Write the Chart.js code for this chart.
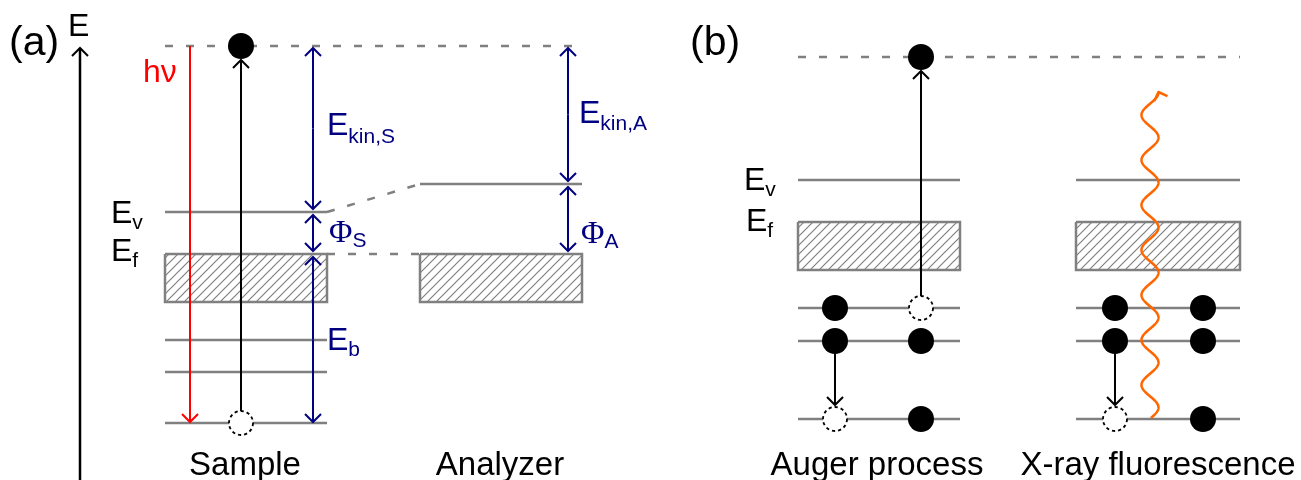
<!DOCTYPE html>
<html>
<head>
<meta charset="utf-8">
<script src="https://cdn.jsdelivr.net/npm/chart.js@4.4.1/dist/chart.umd.min.js"></script>
<style>
  html, body { margin: 0; padding: 0; background: #fff; }
</style>
</head>
<body>
<canvas id="bands" width="1301" height="480"></canvas>
<script>
// energy axis: one unit per pixel, zero at the bottom edge

// (a) photoemission: sample and analyzer in contact
const freeLevelA = 434;       // level of the emitted photoelectron
const vacuumSample = 268;     // E_v of the sample
const vacuumAnalyzer = 296;   // vacuum level of the analyzer
const fermiLevel = 226;       // common E_f
const bandBottomA = 178;      // bottom of the occupied band
const coreLevelsA = [140, 108, 57];

// (b) decay of a core hole
const freeLevelB = 423;       // level of the Auger electron
const vacuumB = 300;
const fermiB = 258;
const bandBottomB = 210;
const coreLevelsB = [172, 139, 61];

// occupancy of the three core levels per column (1 = electron, 0 = hole)
const augerLeft = [1, 1, 0];
const augerRight = [0, 1, 1];
const fluorLeft = [1, 1, 0];
const fluorRight = [1, 1, 1];

// horizontal layout
const X = {
  axis: 80, hv: 190, elecA: 241, arrS: 313, arrA: 568,
  sample: [165, 327], analyzer: [420, 582],
  auger: [798, 960], fluor: [1076, 1240],
  augerL: 835, augerR: 921, fluorL: 1115, fluorR: 1203
};

// emitted x-ray photon, drawn as a wavy arrow
const photon = { x: 1150, from: 62, to: 388, amp: 8.5, period: 45, leftPeak: 365 };

const GRAY = '#808080';
const NAVY = '#000080';
const RED = '#ff0000';
const ORANGE = '#ff6600';
const DASH = [8, 13];
const GAP = 3;                // clearance between an arrow tip and its level
const SANS = '"Liberation Sans", Arial, sans-serif';
const SERIF = '"Liberation Serif", "Times New Roman", serif';

const labels = [
  { text: '(a)', x: 9, e: 425, size: 41 },
  { text: 'E', x: 68, e: 444 },
  { text: 'h\u03bd', x: 143, e: 398, color: RED },
  { text: 'E', sub: 'v', x: 111, e: 257 },
  { text: 'E', sub: 'f', x: 111, e: 219 },
  { text: 'E', sub: 'kin,S', x: 327, e: 345, color: NAVY, drop: 8 },
  { text: '\u03a6', sub: 'S', x: 329, e: 238, color: NAVY, serif: true, drop: 5 },
  { text: 'E', sub: 'b', x: 327, e: 130, color: NAVY },
  { text: 'E', sub: 'kin,A', x: 579, e: 357, color: NAVY, drop: 7 },
  { text: '\u03a6', sub: 'A', x: 581, e: 237, color: NAVY, serif: true, drop: 5 },
  { text: 'Sample', x: 245, e: 5, center: true, size: 33 },
  { text: 'Analyzer', x: 500, e: 5, center: true, size: 33 },
  { text: '(b)', x: 690, e: 425, size: 41 },
  { text: 'E', sub: 'v', x: 744, e: 290 },
  { text: 'E', sub: 'f', x: 746, e: 249 },
  { text: 'Auger process', x: 877, e: 5, center: true, size: 33 },
  { text: 'X-ray fluorescence', x: 1158, e: 5, center: true, size: 33 }
];

const ctx0 = document.getElementById('bands').getContext('2d');

function hatch() {
  const s = 9;
  const c = document.createElement('canvas');
  c.width = s; c.height = s;
  const g = c.getContext('2d');
  g.strokeStyle = GRAY;
  g.lineWidth = 1.2;
  g.beginPath();
  g.moveTo(0, s); g.lineTo(s, 0);
  g.moveTo(-2, 2); g.lineTo(2, -2);
  g.moveTo(s - 2, s + 2); g.lineTo(s + 2, s - 2);
  g.stroke();
  return ctx0.createPattern(c, 'repeat');
}

function chevron(color, w, h, lw) {
  const s = 2 * Math.max(w, h) + 8;
  const c = document.createElement('canvas');
  c.width = s; c.height = s;
  const g = c.getContext('2d');
  g.strokeStyle = color;
  g.lineWidth = lw;
  g.lineCap = 'butt';
  g.beginPath();
  g.moveTo(s / 2 - w, s / 2 + h);
  g.lineTo(s / 2, s / 2);
  g.lineTo(s / 2 + w, s / 2 + h);
  g.stroke();
  return c;
}

function holeMark() {
  const c = document.createElement('canvas');
  c.width = 30; c.height = 30;
  const g = c.getContext('2d');
  g.beginPath();
  g.arc(15, 15, 12, 0, Math.PI * 2);
  g.fillStyle = '#fff';
  g.fill();
  g.setLineDash([3.2, 3]);
  g.lineWidth = 1.8;
  g.strokeStyle = '#000';
  g.stroke();
  return c;
}

const datasets = [];
const hatchFill = hatch();

function line(points, color, width, order, dash) {
  datasets.push({
    data: points.map(([x, y]) => ({ x, y })),
    showLine: true, borderColor: color, borderWidth: width, borderDash: dash || [],
    borderCapStyle: 'butt', pointRadius: 0, fill: false, tension: 0, order
  });
}

function level(span, e, dash) {
  line([[span[0], e], [span[1], e]], GRAY, 2.5, 3, dash);
}

function band(span, top, bottom) {
  datasets.push({
    data: [
      { x: span[0], y: top }, { x: span[1], y: top },
      { x: span[1], y: bottom }, { x: span[0], y: bottom }, { x: span[0], y: top }
    ],
    showLine: true, borderColor: GRAY, borderWidth: 2.5, backgroundColor: hatchFill,
    fill: 'shape', pointRadius: 0, tension: 0, order: 4
  });
}

const tips = { black: [], red: [], navy: [] };
function arrow(x, from, to, kind, width) {
  const color = { black: '#000', red: RED, navy: NAVY }[kind];
  line([[x, from], [x, to]], color, width, 2);
  tips[kind].push({ x, y: to, up: to > from });
}
// double-headed arrow between two levels
function span(x, upper, lower) {
  const top = upper - GAP, bottom = lower + GAP;
  const mid = (top + bottom) / 2;
  arrow(x, mid, top, 'navy', 2);
  arrow(x, mid, bottom, 'navy', 2);
}

// (a) levels
level([X.sample[0], X.analyzer[1]], freeLevelA, DASH);
level(X.sample, vacuumSample);
line([[X.sample[1], vacuumSample], [X.analyzer[0], vacuumAnalyzer]], GRAY, 2.5, 3, DASH);
level(X.analyzer, vacuumAnalyzer);
line([[X.sample[1], fermiLevel], [X.analyzer[0], fermiLevel]], GRAY, 2.5, 3, DASH);
band(X.sample, fermiLevel, bandBottomA);
band(X.analyzer, fermiLevel, bandBottomA);
coreLevelsA.forEach(e => level(X.sample, e));

// (b) levels
level([X.auger[0], X.fluor[1]], freeLevelB, DASH);
[X.auger, X.fluor].forEach(s => {
  level(s, vacuumB);
  band(s, fermiB, bandBottomB);
  coreLevelsB.forEach(e => level(s, e));
});

// (a) arrows
arrow(X.axis, 0, 432, 'black', 2.5);
arrow(X.hv, freeLevelA, coreLevelsA[2] + 1, 'red', 2);
arrow(X.elecA, coreLevelsA[2] + 12, freeLevelA - 14, 'black', 2);
span(X.arrS, freeLevelA + 1, vacuumSample);
span(X.arrS, vacuumSample, fermiLevel);
span(X.arrS, fermiLevel, coreLevelsA[2] - 2);
span(X.arrA, freeLevelA + 1, vacuumAnalyzer);
span(X.arrA, vacuumAnalyzer, fermiLevel);

// (b) arrows
arrow(X.augerR, coreLevelsB[0] + 12, freeLevelB - 14, 'black', 2);
arrow(X.augerL, coreLevelsB[1] - 13, coreLevelsB[2] + 14, 'black', 2);
arrow(X.fluorL, coreLevelsB[1] - 13, coreLevelsB[2] + 14, 'black', 2);

const tipMarks = {
  black: chevron('#000', 8, 8, 2),
  red: chevron(RED, 8, 8, 2),
  navy: chevron(NAVY, 8, 8, 2)
};
for (const kind of Object.keys(tips)) {
  datasets.push({
    data: tips[kind].map(t => ({ x: t.x, y: t.y })),
    showLine: false, pointStyle: tipMarks[kind], pointRadius: 8,
    pointRotation: tips[kind].map(t => (t.up ? 0 : 180)), order: 1
  });
}

// electrons and holes
const electrons = [{ x: X.elecA, y: freeLevelA }, { x: X.augerR, y: freeLevelB }];
const holes = [{ x: X.elecA, y: coreLevelsA[2] }];
coreLevelsB.forEach((e, i) => {
  (augerLeft[i] ? electrons : holes).push({ x: X.augerL, y: e });
  (augerRight[i] ? electrons : holes).push({ x: X.augerR, y: e });
  (fluorLeft[i] ? electrons : holes).push({ x: X.fluorL, y: e });
  (fluorRight[i] ? electrons : holes).push({ x: X.fluorR, y: e });
});
datasets.push({
  data: electrons, showLine: false, pointStyle: 'circle', pointRadius: 13,
  pointBackgroundColor: '#000', pointBorderWidth: 0, order: 0
});
datasets.push({
  data: holes, showLine: false, pointStyle: holeMark(), pointRadius: 12, order: 0
});

const photonWave = {
  id: 'photonWave',
  afterDatasetsDraw(chart) {
    const { ctx, scales: { x, y } } = chart;
    const phase = e => 2 * Math.PI * (photon.leftPeak - e) / photon.period - Math.PI / 2;
    ctx.save();
    ctx.strokeStyle = ORANGE;
    ctx.lineWidth = 2.5;
    ctx.lineJoin = 'round';
    ctx.beginPath();
    for (let e = photon.from; e <= photon.to; e += 0.5) {
      const px = x.getPixelForValue(photon.x + photon.amp * Math.sin(phase(e)));
      const py = y.getPixelForValue(e);
      if (e === photon.from) ctx.moveTo(px, py); else ctx.lineTo(px, py);
    }
    ctx.stroke();
    const tx = x.getPixelForValue(photon.x + photon.amp * Math.sin(phase(photon.to)));
    const ty = y.getPixelForValue(photon.to);
    ctx.translate(tx, ty);
    ctx.rotate(-0.35);
    ctx.beginPath();
    ctx.moveTo(-7, 7); ctx.lineTo(0, 0); ctx.lineTo(7, 7);
    ctx.stroke();
    ctx.restore();
  }
};

const levelLabels = {
  id: 'levelLabels',
  afterDatasetsDraw(chart) {
    const { ctx, scales: { x, y } } = chart;
    ctx.save();
    ctx.textBaseline = 'alphabetic';
    for (const l of labels) {
      const size = l.size || 32;
      ctx.font = `${size}px ${l.serif ? SERIF : SANS}`;
      ctx.fillStyle = l.color || '#000';
      const w = ctx.measureText(l.text).width;
      let px = x.getPixelForValue(l.x);
      const py = y.getPixelForValue(l.e);
      if (l.center) px -= w / 2;
      ctx.fillText(l.text, px, py);
      if (l.sub) {
        ctx.font = `21px ${SANS}`;
        ctx.fillText(l.sub, px + w, py + (l.drop || 6));
      }
    }
    ctx.restore();
  }
};

new Chart(ctx0, {
  type: 'line',
  data: { datasets },
  options: {
    responsive: false,
    animation: false,
    devicePixelRatio: 1,
    events: [],
    layout: { padding: 0, autoPadding: false },
    scales: {
      x: { type: 'linear', min: 0, max: 1301, display: false },
      y: { type: 'linear', min: 0, max: 480, display: false }
    },
    plugins: {
      legend: { display: false },
      tooltip: { enabled: false }
    }
  },
  plugins: [photonWave, levelLabels]
});
</script>
</body>
</html>
